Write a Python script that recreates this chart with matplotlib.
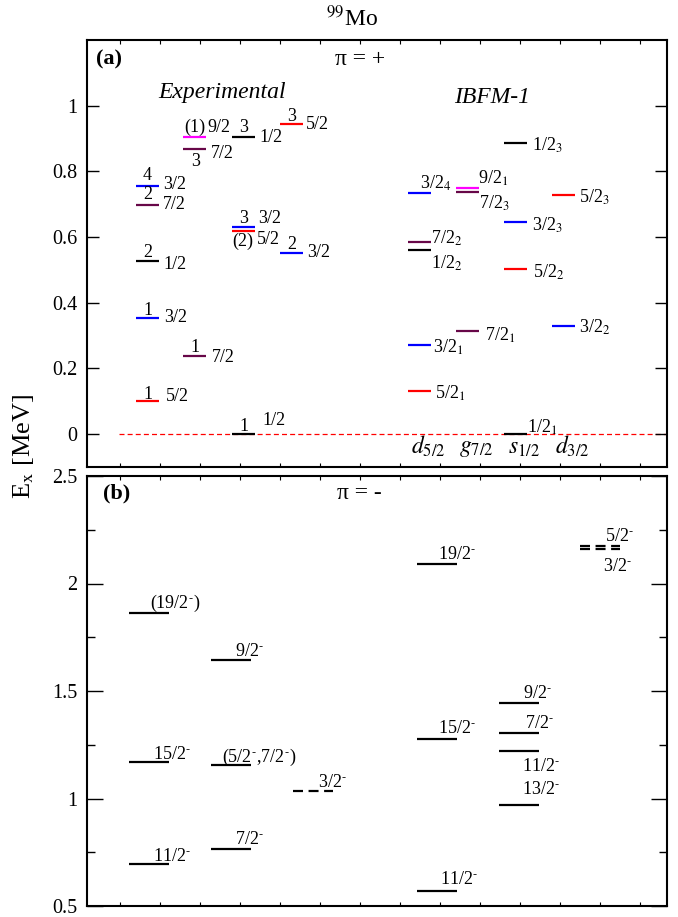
import matplotlib
matplotlib.use("Agg")
import matplotlib.pyplot as plt
from matplotlib.ticker import MultipleLocator, FixedLocator, NullFormatter

plt.rcParams['font.family'] = ['Liberation Serif', 'DejaVu Serif']
plt.rcParams['mathtext.fontset'] = 'stix'

M = r'$^{\text{-}}$'  # petit tiret en exposant (parité négative)

# --- (a) parité positive : niveaux expérimentaux ---
exp_a_energy = [0.754, 0.699, 0.526, 0.353, 0.100,
                0.906, 0.869, 0.237,
                0.906, 0.632, 0.617, 0.0,
                0.945, 0.550]
exp_a_spin = ['3/2', '7/2', '1/2', '3/2', '5/2',
              '9/2', '7/2', '7/2',
              '1/2', '3/2', '5/2', '1/2',
              '5/2', '3/2']
exp_a_index = ['4', '2', '2', '1', '1',
               '(1)', '3', '1',
               '3', '3', '(2)', '1',
               '3', '2']
exp_a_col = [0, 0, 0, 0, 0, 1, 1, 1, 2, 2, 2, 2, 3, 3]

# --- (a) parité positive : IBFM-1 ---
ibfm_a_energy = [0.735, 0.584, 0.562, 0.270, 0.130,
                 0.748, 0.738, 0.313,
                 0.887, 0.647, 0.504, 0.0,
                 0.729, 0.329]
ibfm_a_spin = ['3/2', '7/2', '1/2', '3/2', '5/2',
               '9/2', '7/2', '7/2',
               '1/2', '3/2', '5/2', '1/2',
               '5/2', '3/2']
ibfm_a_order = ['4', '2', '2', '1', '1',
                '1', '3', '1',
                '3', '3', '2', '1',
                '3', '2']
ibfm_a_col = [0, 0, 0, 0, 0, 1, 1, 1, 2, 2, 2, 2, 3, 3]
orbitals = ['d_{5/2}', 'g_{7/2}', 's_{1/2}', 'd_{3/2}']

# --- (b) parité négative ---
exp_b_energy = [1.861, 1.171, 0.694, 1.644, 1.157, 0.764, 1.037]
exp_b_label = ['(19/2' + M + ')', '15/2' + M, '11/2' + M,
               '9/2' + M, '(5/2' + M + ',7/2' + M + ')', '7/2' + M, '3/2' + M]
exp_b_col = [0, 0, 0, 1, 1, 1, 2]
exp_b_tentative = [False, False, False, False, False, False, True]

ibfm_b_energy = [2.093, 1.278, 0.569, 1.444, 1.304, 1.222, 0.968, 2.176, 2.162]
ibfm_b_label = ['19/2' + M, '15/2' + M, '11/2' + M,
                '9/2' + M, '7/2' + M, '11/2' + M, '13/2' + M,
                '5/2' + M, '3/2' + M]
ibfm_b_col = [0, 0, 0, 1, 1, 1, 1, 2, 2]
ibfm_b_tentative = [False] * 7 + [True, True]

# couleurs par spin (style xmgrace)
spin_colors = {'1/2': 'black', '3/2': '#0000ff', '5/2': '#ff0000',
               '7/2': '#670748', '9/2': '#ff00ff'}

# --- mise en page (en pixels) ---
W, H = 678, 917
exp_a_x = [136, 183, 232, 280]
ibfm_a_x = [408, 456, 504, 552]
width_a = 23
exp_b_x = [129, 211, 293]
ibfm_b_x = [417, 499, 580]
width_b = 40

# décalages des étiquettes (dx, dy) en pixels
exp_a_jpos = [(4, 2), (4, 0), (4, -3), (5, 1), (7, 5),
              (1, 9), (5, -5), (6, -1),
              (4, -1), (3, 8), (2, -8), (7, 14),
              (3, -1), (4, 1)]
exp_a_npos = [(0, 11), (0, 10), (0, 9), (0, 8), (0, 7),
              (0, 9), (1, -13), (0, 9),
              (0, 9), (0, 8), (-1, -10), (0, 8),
              (0, 7), (0, 9)]
ibfm_a_pos = [(-11, 10), (0, 5), (0, -13), (2, -1), (4, -1),
              (-1, 11), (0, -11), (6, -3),
              (5, -2), (5, -3), (6, -3), (0, 8),
              (4, -2), (4, -1)]
exp_b_pos = [(21, 5), (24, 3), (24, 3), (24, 4), (11, 3), (24, 5), (25, 4)]
ibfm_b_pos = [(21, 5), (21, 6), (23, 7), (24, 5), (26, 5), (23, -20), (23, 11), (25, 5), (23, -22)]

fig = plt.figure(figsize=(W / 100, H / 100), dpi=100)
ax_a = fig.add_axes([87 / W, 1 - 467 / H, 580 / W, 427 / H])
ax_b = fig.add_axes([87 / W, 1 - 906 / H, 580 / W, 430 / H])

lbl = 13

# ---- panneau (a) ----
ax_a.plot([119, 667], [0, 0], color='red', lw=0.9, ls=(0, (4, 2.5)), zorder=1)

for E, J, n, c, jp, npos in zip(exp_a_energy, exp_a_spin, exp_a_index, exp_a_col, exp_a_jpos, exp_a_npos):
    x0 = exp_a_x[c]
    x1 = x0 + width_a
    ax_a.plot([x0, x1], [E, E], color=spin_colors[J], lw=1.6, solid_capstyle='butt', zorder=3)
    ax_a.annotate(J, xy=(x1, E), xytext=jp, textcoords='offset pixels',
                  ha='left', va='center', fontsize=lbl)
    ax_a.annotate(n, xy=((x0 + x1) / 2, E), xytext=npos, textcoords='offset pixels',
                  ha='center', va='center', fontsize=lbl)

for E, J, k, c, p in zip(ibfm_a_energy, ibfm_a_spin, ibfm_a_order, ibfm_a_col, ibfm_a_pos):
    x0 = ibfm_a_x[c]
    x1 = x0 + width_a
    ax_a.plot([x0, x1], [E, E], color=spin_colors[J], lw=1.6, solid_capstyle='butt', zorder=3)
    ax_a.annotate(J + '$_{' + k + '}$', xy=(x1, E), xytext=(p[0], p[1] - 6),
                  textcoords='offset pixels', ha='left', va='baseline', fontsize=lbl)

for orb, x0 in zip(orbitals, ibfm_a_x):
    ax_a.annotate('$' + orb + '$', xy=(x0 + 12, -0.1), xytext=(8, 8), textcoords='offset pixels',
                  ha='center', va='bottom', fontsize=17)

ax_a.text(0.015, 0.955, '(a)', transform=ax_a.transAxes, fontsize=16, fontweight='bold',
          ha='left', va='center')
ax_a.text(0.47, 0.955, 'π = +', transform=ax_a.transAxes, fontsize=17, ha='center', va='center')
ax_a.text(222, 1.04, 'Experimental', fontsize=17, style='italic', ha='center', va='center')
ax_a.text(492, 1.024, 'IBFM-1', fontsize=17, style='italic', ha='center', va='center')

ax_a.set_xlim(87, 667)
ax_a.set_ylim(-0.1, 1.2)
ax_a.yaxis.set_major_locator(FixedLocator([0, 0.2, 0.4, 0.6, 0.8, 1.0]))
ax_a.set_yticklabels(['0', '0.2', '0.4', '0.6', '0.8', '1'])

# ---- panneau (b) ----
for E, t, c, p, tent in zip(exp_b_energy, exp_b_label, exp_b_col, exp_b_pos, exp_b_tentative):
    x0 = exp_b_x[c]
    ls = (0, (4.5, 2.5)) if tent else '-'
    ax_b.plot([x0, x0 + width_b], [E, E], color='black', lw=1.6, ls=ls, solid_capstyle='butt')
    ax_b.annotate(t, xy=(x0, E), xytext=p, textcoords='offset pixels',
                  ha='left', va='baseline', fontsize=lbl)

for E, t, c, p, tent in zip(ibfm_b_energy, ibfm_b_label, ibfm_b_col, ibfm_b_pos, ibfm_b_tentative):
    x0 = ibfm_b_x[c]
    ls = (0, (4.5, 2.5)) if tent else '-'
    ax_b.plot([x0, x0 + width_b], [E, E], color='black', lw=1.6, ls=ls, solid_capstyle='butt')
    ax_b.annotate(t, xy=(x0, E), xytext=p, textcoords='offset pixels',
                  ha='left', va='baseline', fontsize=lbl)

ax_b.text(0.027, 0.96, '(b)', transform=ax_b.transAxes, fontsize=16, fontweight='bold',
          ha='left', va='center')
ax_b.text(0.47, 0.96, 'π = -', transform=ax_b.transAxes, fontsize=17, ha='center', va='center')

ax_b.set_xlim(87, 667)
ax_b.set_ylim(0.5, 2.5)
ax_b.yaxis.set_major_locator(MultipleLocator(0.5))
ax_b.yaxis.set_minor_locator(MultipleLocator(0.25))
ax_b.yaxis.set_major_formatter(plt.FuncFormatter(lambda v, p: f'{v:g}'))

for ax, L in ((ax_a, 8.6), (ax_b, 11.5)):
    for s in ax.spines.values():
        s.set_linewidth(1.5)
    ax.xaxis.set_major_locator(FixedLocator(list(range(120, 667, 40))))
    ax.xaxis.set_major_formatter(NullFormatter())
    ax.tick_params(axis='x', direction='in', top=True, bottom=True, length=3, width=0.8)
    ax.tick_params(axis='y', which='major', direction='in', left=True, right=True,
                   length=L, width=1, labelsize=14.5, pad=7)
    ax.tick_params(axis='y', which='minor', direction='in', left=True, right=True,
                   length=5.8, width=1)

fig.text(352 / W, 1 - 18 / H, r'$^{99}$Mo', fontsize=17, ha='center', va='center')
fig.text(24 / W, 1 - 446 / H, r'E$_\mathrm{x}$ [MeV]', fontsize=19, rotation=90,
         ha='center', va='center')

fig.savefig('out.png', dpi=100)
